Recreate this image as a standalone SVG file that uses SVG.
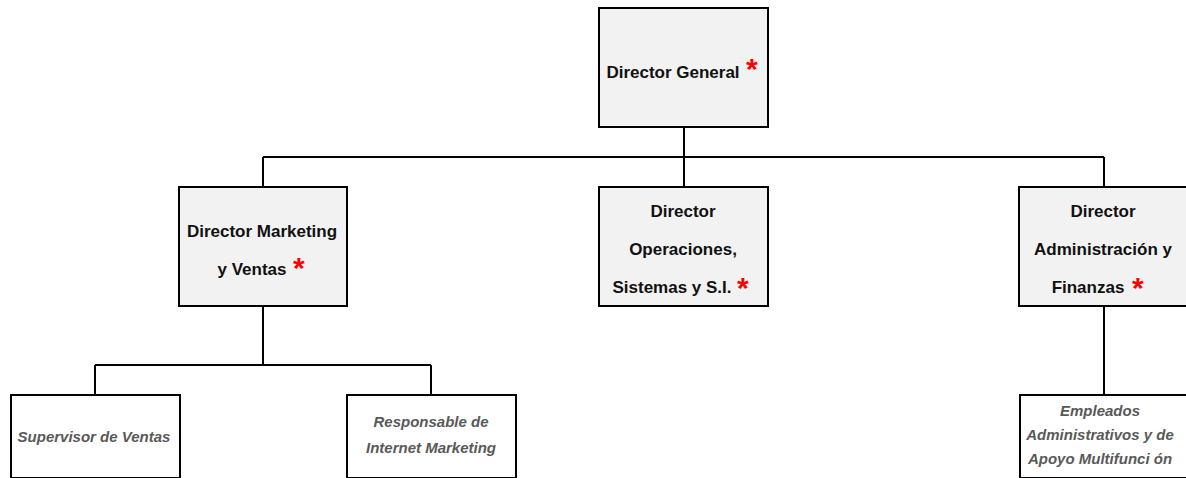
<svg xmlns="http://www.w3.org/2000/svg" width="1186" height="478" viewBox="0 0 1186 478">
<style>
.dir{fill:#f2f2f2;stroke:#000;stroke-width:2}
.emp{fill:#fff;stroke:#000;stroke-width:2}
.t{font-family:"Liberation Sans",Arial,sans-serif;font-weight:bold;font-size:17px;fill:#111;text-anchor:middle}
.e{font-family:"Liberation Sans",Arial,sans-serif;font-weight:bold;font-style:italic;font-size:15px;fill:#595959;text-anchor:middle}
.a{font-family:"Liberation Sans",Arial,sans-serif;font-weight:bold;font-size:30px;fill:#ff0000}
.c{fill:none;stroke:#000;stroke-width:2}
</style>
<rect width="1186" height="478" fill="#fff"/>
<g id="connectors">
<path class="c" d="M684 127V157M263 157H1104M263 157V187M684 157V187M1104 157V187"/>
<path class="c" d="M263 306V365M95 365H431M95 365V395M431 365V395"/>
<path class="c" d="M1104 306V395"/>
</g>
<g id="director-general">
<rect class="dir" x="599" y="8" width="169" height="119"/>
<text class="t" x="673" y="78">Director General</text>
<text class="a" x="746" y="79">*</text>
</g>
<g id="director-marketing">
<rect class="dir" x="179" y="187" width="168" height="119"/>
<text class="t" x="262" y="237">Director Marketing</text>
<text class="t" x="252" y="275">y Ventas</text>
<text class="a" x="293" y="278">*</text>
</g>
<g id="director-operaciones">
<rect class="dir" x="599" y="187" width="169" height="119"/>
<text class="t" x="683" y="217">Director</text>
<text class="t" x="683" y="255">Operaciones,</text>
<text class="t" x="672" y="293">Sistemas y S.I.</text>
<text class="a" x="737" y="298">*</text>
</g>
<g id="director-administracion">
<rect class="dir" x="1019" y="187" width="168" height="119"/>
<text class="t" x="1103" y="217">Director</text>
<text class="t" x="1103" y="255">Administración y</text>
<text class="t" x="1088" y="293">Finanzas</text>
<text class="a" x="1132" y="298">*</text>
</g>
<g id="supervisor-ventas">
<rect class="emp" x="11" y="395" width="169" height="83"/>
<text class="e" x="94" y="442">Supervisor de Ventas</text>
</g>
<g id="responsable-internet">
<rect class="emp" x="347" y="395" width="169" height="83"/>
<text class="e" x="431" y="427">Responsable de</text>
<text class="e" x="431" y="453">Internet Marketing</text>
</g>
<g id="empleados-administrativos">
<rect class="emp" x="1020" y="395" width="167" height="83"/>
<text class="e" x="1100" y="416">Empleados</text>
<text class="e" x="1100" y="440">Administrativos y de</text>
<text class="e" x="1100" y="464">Apoyo Multifunci ón</text>
</g>
</svg>
